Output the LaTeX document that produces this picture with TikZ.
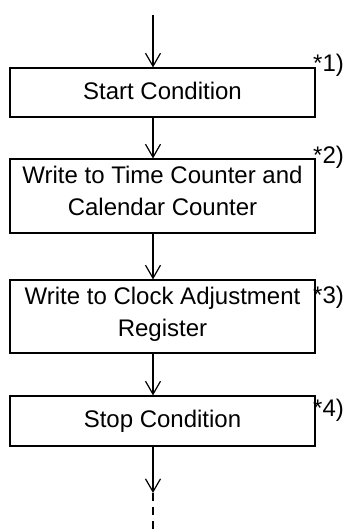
\documentclass[tikz,border=0pt]{standalone}
\usepackage{fontspec}
\setmainfont{Liberation Sans}
\usetikzlibrary{arrows.meta}

\begin{document}
\begin{tikzpicture}[x=1pt,y=-1pt,line width=1.2pt,
  font=\fontsize{24}{32}\selectfont,
  stagebox/.style={draw,minimum width=305pt,inner sep=0pt,align=center},
  note/.style={anchor=base west,inner sep=0pt},
  flow/.style={-{Straight Barb[length=13pt,width=15pt]}}]
\useasboundingbox (0,0) rectangle (348,529);

\coordinate (in) at (153,15);
\coordinate (out) at (153,493);
\coordinate (end) at (153,529);

\node[stagebox,minimum height=49pt,text depth=4pt] (start) at (162.5,92.5) {Start Condition};
\node[stagebox,minimum height=74pt] (time) at (162.5,196) {Write to Time Counter and\\Calendar Counter\rule[-10pt]{0pt}{10pt}};
\node[stagebox,minimum height=73pt] (adjust) at (162.5,316.5) {Write to Clock Adjustment\\Register\rule[-10pt]{0pt}{10pt}};
\node[stagebox,minimum height=50pt,text depth=4pt] (stop) at (162.5,421) {Stop Condition};

\node[note] (n1) at ([shift={(-3,4)}]start.north east) {*1)};
\node[note] (n2) at ([shift={(-3,5)}]time.north east) {*2)};
\node[note] (n3) at ([shift={(-3,24)}]adjust.north east) {*3)};
\node[note] (n4) at ([shift={(-3,21)}]stop.north east) {*4)};

\draw[flow] (in) -- (start.north -| in);
\draw[flow] (start.south -| in) -- (time.north -| in);
\draw[flow] (time.south -| in) -- (adjust.north -| in);
\draw[flow] (adjust.south -| in) -- (stop.north -| in);
\draw[flow] (stop.south -| in) -- (out);
\draw[dash pattern=on 8pt off 6pt] (out) -- (end);
\end{tikzpicture}
\end{document}
